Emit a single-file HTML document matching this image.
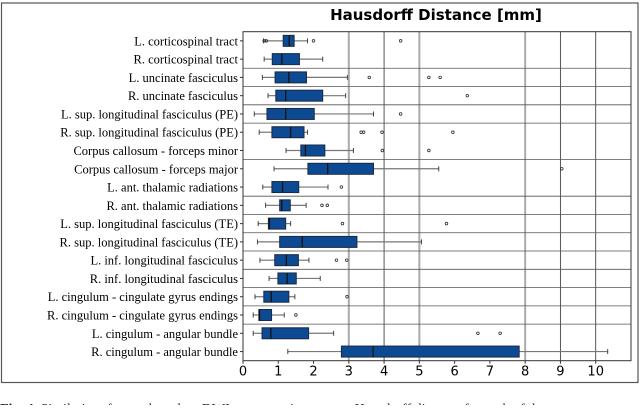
<!DOCTYPE html>
<html><head><meta charset="utf-8"><style>
body{margin:0;background:#fff;}
svg text{font-family:"Liberation Serif",serif;}
</style></head><body>
<svg id="chart" width="640" height="405" viewBox="0 0 640 405">
<rect x="1.5" y="3" width="636.5" height="379.5" fill="none" stroke="#555" stroke-width="1.2"/>
<text x="436" y="20" text-anchor="middle" style="font-family:'DejaVu Sans','Liberation Sans',sans-serif;font-weight:bold;font-size:15px">Hausdorff Distance [mm]</text>
<g id="grid"></g><g id="rows"></g><g id="boxes"></g><g id="axes"></g>
<text x="0" y="413" fill="#222" style="font-size:14px"><tspan font-weight="bold">Fig. 4.</tspan> Similarity of tracts based on DWI segmentations: mean Hausdorff distance for each of the tracts</text>
</svg>
<script>
const labels=["L. corticospinal tract","R. corticospinal tract","L. uncinate fasciculus","R. uncinate fasciculus","L. sup. longitudinal fasciculus (PE)","R. sup. longitudinal fasciculus (PE)","Corpus callosum - forceps minor","Corpus callosum - forceps major","L. ant. thalamic radiations","R. ant. thalamic radiations","L. sup. longitudinal fasciculus (TE)","R. sup. longitudinal fasciculus (TE)","L. inf. longitudinal fasciculus","R. inf. longitudinal fasciculus","L. cingulum - cingulate gyrus endings","R. cingulum - cingulate gyrus endings","L. cingulum - angular bundle","R. cingulum - angular bundle"];
const whiskLo=[0.58,0.6,0.55,0.71,0.32,0.46,1.22,0.88,0.56,0.64,0.43,0.41,0.48,0.74,0.34,0.29,0.29,1.27];
const q1=[1.14,0.83,0.91,0.93,0.68,0.82,1.64,1.84,0.82,1.04,0.72,1.04,0.9,0.99,0.59,0.45,0.54,2.79];
const medians=[1.31,1.1,1.3,1.21,1.21,1.35,1.77,2.4,1.12,1.1,0.75,1.68,1.23,1.25,0.8,0.47,0.79,3.69];
const q3=[1.45,1.6,1.8,2.26,2.02,1.73,2.32,3.7,1.58,1.34,1.21,3.23,1.57,1.51,1.3,0.81,1.86,7.83];
const whiskHi=[1.83,2.26,2.96,2.91,3.7,1.83,3.13,5.55,2.41,1.79,1.35,5.06,1.87,2.19,1.47,1.17,2.57,10.34];
const outliers=[[0.6,0.66,2.0,4.47],[],[3.58,5.27,5.59],[6.36],[4.47],[3.35,3.42,3.94,5.95],[3.95,5.27],[9.04],[2.79],[2.24,2.39],[2.82,5.77],[],[2.65,2.94],[],[2.95],[1.5],[6.66,7.29],[]];
const xTicks=[0,1,2,3,4,5,6,7,8,9,10];
const gridVals=[3,4,5,8,9,10];
const NS="http://www.w3.org/2000/svg";
const L=243,R=631,T=31.7,B=360.7;
const xs=v=>L+v*35.27;
const rowH=(B-T)/labels.length;
const yc=i=>T+rowH*(i+0.5);
function mk(tag,attrs,parent){const e=document.createElementNS(NS,tag);for(const k in attrs)e.setAttribute(k,attrs[k]);document.getElementById(parent).appendChild(e);return e;}
gridVals.forEach(v=>{
 const thick=(v===3||v===5||v===8);
 const g=mk('line',{x1:xs(v),x2:xs(v),y1:T,y2:B,stroke:thick?'#aaa':'#444','stroke-width':thick?2:0.9},'grid');
 
 
});
const noSep=[0,5,7,16];
for(let i=0;i<labels.length-1;i++){
 if(noSep.includes(i))continue;
 const y=T+rowH*(i+1);
 const s=mk('line',{x1:L,x2:R,y1:y,y2:y,stroke:'#555','stroke-width':0.8},'rows');
 
 
}
labels.forEach((lab,i)=>{
 const y=yc(i);
 const t=mk('text',{x:238,y:y+4.5,'text-anchor':'end','font-size':'12.5'},'rows');
 t.textContent=lab;
 
 
 const tk=mk('line',{x1:L-3,x2:L,y1:y,y2:y,stroke:'#333'},'rows');
 
 
 const g=mk('g',{},'boxes');
 
 
 const gid='b'+i;g.id=gid;
 mk('line',{x1:xs(whiskLo[i]),x2:xs(q1[i]),y1:y,y2:y,stroke:'#777','stroke-width':1.2},gid);
 mk('line',{x1:xs(q3[i]),x2:xs(whiskHi[i]),y1:y,y2:y,stroke:'#777','stroke-width':1.2},gid);
 mk('line',{x1:xs(whiskLo[i]),x2:xs(whiskLo[i]),y1:y-2.5,y2:y+2.5,stroke:'#444'},gid);
 mk('line',{x1:xs(whiskHi[i]),x2:xs(whiskHi[i]),y1:y-2.5,y2:y+2.5,stroke:'#444'},gid);
 mk('rect',{x:xs(q1[i]),y:y-5.5,width:xs(q3[i])-xs(q1[i]),height:11,fill:'#0d4a94',stroke:'#1a2a40','stroke-width':1},gid);
 mk('line',{x1:xs(medians[i]),x2:xs(medians[i]),y1:y-5.5,y2:y+5.5,stroke:'#111','stroke-width':1.3},gid);
 outliers[i].forEach(o=>{
  const c=mk('circle',{cx:xs(o),cy:y,r:1.3,fill:'none',stroke:'#333','stroke-width':0.8},gid);
  
  
 });
});
const ax=mk('rect',{x:L,y:T,width:R-L,height:B-T,fill:'none',stroke:'#333','stroke-width':1},'axes');


xTicks.forEach(v=>{
 const tl=mk('line',{x1:xs(v),x2:xs(v),y1:B,y2:B+3,stroke:'#333'},'axes');
 
 
 const t=mk('text',{x:xs(v),y:B+15,'text-anchor':'middle',style:"font-family:'DejaVu Sans','Liberation Sans',sans-serif;font-size:13px"},'axes');
 t.textContent=v;
 
 
});
</script>
</body></html>
